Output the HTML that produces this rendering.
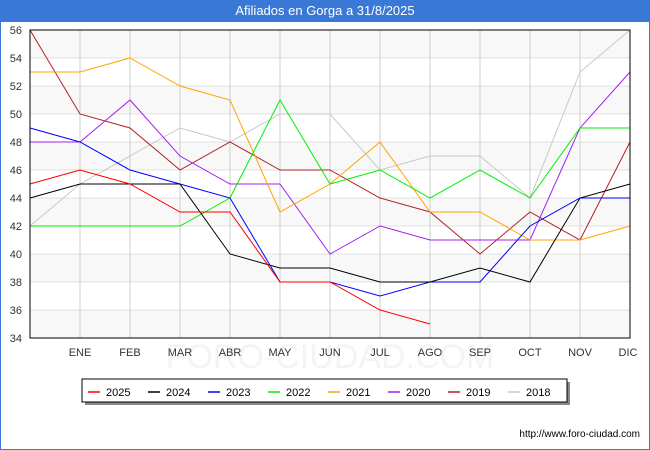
<!DOCTYPE html>
<html><head><meta charset="utf-8"><style>
body{margin:0;width:650px;height:450px;overflow:hidden;font-family:"Liberation Sans",sans-serif;}
#wrap{position:absolute;left:0;top:0;width:648px;height:448px;border:1px solid #3a78d8;background:#fff;}
#title{position:absolute;left:0;top:0;width:650px;height:22px;background:#3a78d8;color:#fff;font-size:13px;line-height:22px;text-align:center;}
</style></head><body>
<div id="wrap"></div>
<div id="title">Afiliados en Gorga a 31/8/2025</div>
<svg id="chart" width="650" height="450" style="position:absolute;left:0;top:0"></svg>
<script>
const categories=["","ENE","FEB","MAR","ABR","MAY","JUN","JUL","AGO","SEP","OCT","NOV","DIC"];
const yTicks=[34,36,38,40,42,44,46,48,50,52,54,56];
const seriesNames=["2025","2024","2023","2022","2021","2020","2019","2018"];
const seriesColors=["#ff0000","#000000","#0000ff","#00ee00","#ffa500","#a020f0","#b22222","#c8c8c8"];
const s2025=[45,46,45,43,43,38,38,36,35];
const s2024=[44,45,45,45,40,39,39,38,38,39,38,44,45];
const s2023=[49,48,46,45,44,38,38,37,38,38,42,44,44];
const s2022=[42,42,42,42,44,51,45,46,44,46,44,49,49];
const s2021=[53,53,54,52,51,43,45,48,43,43,41,41,42];
const s2020=[48,48,51,47,45,45,40,42,41,41,41,49,53];
const s2019=[56,50,49,46,48,46,46,44,43,40,43,41,48];
const s2018=[42,45,47,49,48,50,50,46,47,47,44,53,56];
const seriesData=[s2025,s2024,s2023,s2022,s2021,s2020,s2019,s2018];

const svg=document.getElementById('chart');const NS="http://www.w3.org/2000/svg";
const L=30,R=630,T=30,B=338,ymin=34,ymax=56;
const x=i=>L+i*(R-L)/(categories.length-1);
const y=v=>B-(v-ymin)*(B-T)/(ymax-ymin);
function mk(t,a,p){const e=document.createElementNS(NS,t);for(const k in a)e.setAttribute(k,a[k]);(p||svg).appendChild(e);return e;}
const wm=mk('text',{x:330,y:368,'text-anchor':'middle','font-size':34,fill:'#f3f3f8'});wm.textContent="FORO-CIUDAD.COM";


for(let i=0;i<yTicks.length-1;i++){
  const b=mk('rect',{x:L,y:y(yTicks[i+1]),width:R-L,height:y(yTicks[i])-y(yTicks[i+1]),fill:i%2==0?'#f8f8f8':'#ffffff'});
  
  
}
yTicks.forEach(v=>{
  const g=mk('line',{x1:L,x2:R,y1:y(v),y2:y(v),stroke:'#e0e0e0','stroke-width':1});
  
  
  const t=mk('text',{x:L-8,y:y(v)+4,'text-anchor':'end','font-size':11,fill:'#333'});t.textContent=v;
  
  
});
categories.forEach((c,i)=>{
  if(i>0){const g=mk('line',{x1:x(i),x2:x(i),y1:T,y2:B,stroke:'#cccccc','stroke-width':1});
  
  }
  const t=mk('text',{x:x(i)-(i==categories.length-1?2:0),y:356,'text-anchor':'middle','font-size':11,fill:'#333'});t.textContent=c;
  
  
});
for(let s=seriesData.length-1;s>=0;s--){
  const d=seriesData[s].map((v,i)=>x(i)+','+y(v)).join(' ');
  const p=mk('polyline',{points:d,fill:'none',stroke:seriesColors[s],'stroke-width':1});
  
  
}
const ax=mk('rect',{x:L,y:T,width:R-L,height:B-T,fill:'none',stroke:'#000','stroke-width':1});


const sh=mk('rect',{x:85,y:382,width:485,height:23,fill:'#888'});


const lg=mk('rect',{x:82,y:379,width:485,height:23,fill:'#fff',stroke:'#000','stroke-width':1});


seriesNames.forEach((n,i)=>{
  const lx=88+i*60;
  const l=mk('line',{x1:lx,x2:lx+12,y1:392,y2:392,stroke:seriesColors[i],'stroke-width':1.5});
  
  
  const t=mk('text',{x:lx+18,y:396,'font-size':11,fill:'#000'});t.textContent=n;
  
  
});
const u=mk('text',{x:640,y:437,'text-anchor':'end','font-size':10,fill:'#000'});u.textContent="http://www.foro-ciudad.com";


</script>
</body></html>
